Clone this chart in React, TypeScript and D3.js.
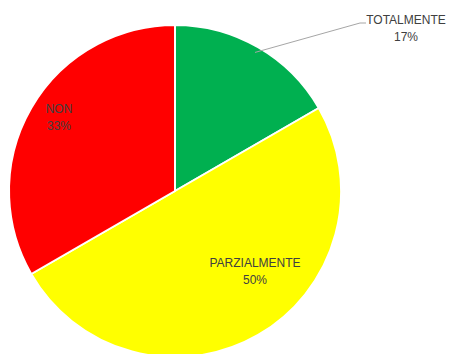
import React from "react";
import * as d3 from "d3";

const categories = ["TOTALMENTE", "PARZIALMENTE", "NON"];
const values = [1, 3, 2];
const colors = ["#00B050", "#FFFF00", "#FF0000"];

const W = 449;
const H = 354;
const CX = 175;
const CY = 191;
const R = 166;

// label anchor positions (layout only), relative to pie centre
const labelPos: [number, number][] = [
  [231, -167],
  [80, 76],
  [-116, -78],
];

export default function App() {
  const total = d3.sum(values);
  const pie = d3.pie<number>().value((d) => d).sort(null);
  const arcs = pie(values);
  const arc = d3.arc<d3.PieArcDatum<number>>().innerRadius(0).outerRadius(R);
  const font = "'Liberation Sans', Arial, sans-serif";
  return (
    <svg
      width={W}
      height={H}
      style={{ position: "absolute", left: 0, top: 0, background: "#fff" }}
    >
      <g transform={`translate(${CX},${CY})`}>
        {arcs.map((a, i) => (
          <path
            key={i}
            d={arc(a) || ""}
            fill={colors[i]}
            stroke="#fff"
            strokeWidth={2}
          />
        ))}
        {(() => {
          // leader line for first slice
          const a = arcs[0];
          const mid = (a.startAngle + a.endAngle) / 2;
          const sx = Math.sin(mid) * (R - 6);
          const sy = -Math.cos(mid) * (R - 6);
          const [lx, ly] = labelPos[0];
          return (
            <polyline
              points={`${sx},${sy} ${lx - 46},${ly - 1} ${lx - 40},${ly - 1}`}
              fill="none"
              stroke="#A6A6A6"
              strokeWidth={1}
            />
          );
        })()}
        {categories.map((c, i) => {
          const [x, y] = labelPos[i];
          const pct = Math.round((values[i] / total) * 100) + "%";
          return (
            <text
              key={c}
              x={x}
              y={y}
              textAnchor="middle"
              fontFamily={font}
              fontSize={12}
              fill="#404040"
            >
              <tspan x={x} dy={0}>
                {c}
              </tspan>
              <tspan x={x} dy={17}>
                {pct}
              </tspan>
            </text>
          );
        })}
      </g>
    </svg>
  );
}
